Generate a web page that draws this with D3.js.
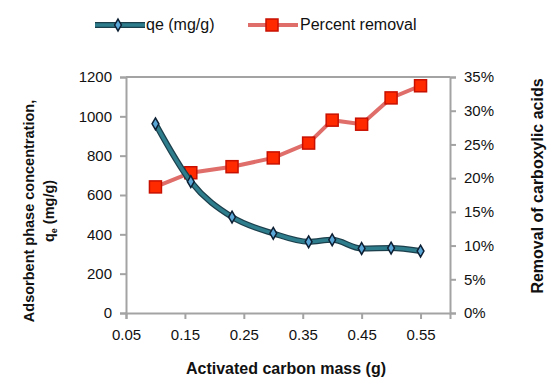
<!DOCTYPE html>
<html>
<head>
<meta charset="utf-8">
<script src="https://cdn.jsdelivr.net/npm/d3@7"></script>
<style>
  body { margin: 0; background: #fff; }
  text { font-family: "Liberation Sans", "DejaVu Sans", sans-serif; fill: #111; }
</style>
</head>
<body>
<svg id="chart" width="552" height="379"></svg>
<script>
// carbon mass (g)
const mass = [0.10, 0.16, 0.23, 0.30, 0.36, 0.40, 0.45, 0.50, 0.55];
// qe (mg/g)
const qe = [962, 668, 488, 405, 362, 372, 328, 330, 315];
// percent removal (fraction)
const removal = [0.187, 0.208, 0.217, 0.230, 0.252, 0.286, 0.280, 0.319, 0.337];

const xTicks = [0.05, 0.15, 0.25, 0.35, 0.45, 0.55];
const yTicks = [0, 200, 400, 600, 800, 1000, 1200];
const y2Ticks = [0, 0.05, 0.10, 0.15, 0.20, 0.25, 0.30, 0.35];

const svg = d3.select("#chart");
const plotL = 126, plotR = 450, plotT = 77, plotB = 313;

const x = d3.scaleLinear().domain([0.05, 0.6]).range([plotL, plotR]);
const y = d3.scaleLinear().domain([0, 1200]).range([plotB, plotT]);
const y2 = d3.scaleLinear().domain([0, 0.35]).range([plotB, plotT]);

const axisColor = "#a3a3a3";

// plot frame top line
svg.append("line")
  .attr("x1", plotL).attr("x2", plotR)
  .attr("y1", plotT).attr("y2", plotT)
  .attr("stroke", axisColor).attr("stroke-width", 2);

// left axis
const gy = svg.append("g").attr("transform", `translate(${plotL},0)`)
  .call(d3.axisLeft(y).tickValues(yTicks).tickSize(6).tickPadding(8).tickFormat(d3.format("d")));
// right axis
const gy2 = svg.append("g").attr("transform", `translate(${plotR},0)`)
  .call(d3.axisRight(y2).tickValues(y2Ticks).tickSize(6).tickPadding(8).tickFormat(d3.format(".0%")));
// bottom axis
const gx = svg.append("g").attr("transform", `translate(0,${plotB})`)
  .call(d3.axisBottom(x).tickValues(xTicks).tickSize(6).tickPadding(10).tickFormat(d3.format(".2f")));

[gy, gy2, gx].forEach(g => {
  g.select(".domain").attr("stroke", axisColor).attr("stroke-width", 2);
  g.selectAll(".tick line").attr("stroke", axisColor).attr("stroke-width", 2);
  g.selectAll(".tick text").attr("font-size", 15).attr("fill", "#111")
    .attr("font-family", "Liberation Sans, sans-serif");
});

// red series
const lineRed = d3.line().x((d, i) => x(mass[i])).y(d => y2(d));
svg.append("path").datum(removal)
  .attr("d", lineRed)
  .attr("fill", "none").attr("stroke", "#d9534f").attr("stroke-width", 4).attr("stroke-opacity", 0.85);
svg.append("g").selectAll("rect").data(removal).enter().append("rect")
  .attr("x", (d, i) => x(mass[i]) - 6)
  .attr("y", d => y2(d) - 6)
  .attr("width", 12).attr("height", 12)
  .attr("fill", "#ff2a00").attr("stroke", "#c81000").attr("stroke-width", 1.5);

// teal series
const lineQe = d3.line().x((d, i) => x(mass[i])).y(d => y(d)).curve(d3.curveMonotoneX);
svg.append("path").datum(qe)
  .attr("d", lineQe)
  .attr("fill", "none").attr("stroke", "#1c3f4c").attr("stroke-width", 6);
svg.append("path").datum(qe)
  .attr("d", lineQe)
  .attr("fill", "none").attr("stroke", "#2e7d8c").attr("stroke-width", 3.5);
const diamond = d3.symbol().type(d3.symbolDiamond).size(40);
svg.append("g").selectAll("path").data(qe).enter().append("path")
  .attr("d", diamond)
  .attr("transform", (d, i) => `translate(${x(mass[i])},${y(d)})`)
  .attr("fill", "#5aa6d6").attr("stroke", "#0d1f33").attr("stroke-width", 1.5);

// legend
const lg = svg.append("g");
lg.append("line").attr("x1", 95).attr("x2", 145).attr("y1", 25).attr("y2", 25)
  .attr("stroke", "#1c3f4c").attr("stroke-width", 6);
lg.append("line").attr("x1", 95).attr("x2", 145).attr("y1", 25).attr("y2", 25)
  .attr("stroke", "#2e7d8c").attr("stroke-width", 3.5);
lg.append("path").attr("d", diamond).attr("transform", "translate(118,25)")
  .attr("fill", "#5aa6d6").attr("stroke", "#0d1f33").attr("stroke-width", 1.5);
lg.append("text").attr("x", 146).attr("y", 30).attr("font-size", 16).text("qe (mg/g)");

lg.append("line").attr("x1", 248).attr("x2", 298).attr("y1", 25).attr("y2", 25)
  .attr("stroke", "#d9534f").attr("stroke-width", 4).attr("stroke-opacity", 0.85);
lg.append("rect").attr("x", 266).attr("y", 19).attr("width", 12).attr("height", 12)
  .attr("fill", "#ff2a00").attr("stroke", "#c81000").attr("stroke-width", 1.5);
lg.append("text").attr("x", 300).attr("y", 30).attr("font-size", 16).text("Percent removal");

// axis titles
svg.append("text")
  .attr("transform", "translate(34,211) rotate(-90)")
  .attr("text-anchor", "middle").attr("font-size", 14.5).attr("font-weight", "bold")
  .text("Adsorbent phase concentration,");
const qLabel = svg.append("text")
  .attr("transform", "translate(54,211) rotate(-90)")
  .attr("text-anchor", "middle").attr("font-size", 14.5).attr("font-weight", "bold");
qLabel.append("tspan").text("q");
qLabel.append("tspan").attr("font-size", 9).attr("dy", 3).text("e");
qLabel.append("tspan").attr("dy", -3).text(" (mg/g)");

svg.append("text")
  .attr("transform", "translate(543,186) rotate(-90)")
  .attr("text-anchor", "middle").attr("font-size", 16).attr("font-weight", "bold")
  .text("Removal of carboxylic acids");

svg.append("text")
  .attr("x", 286).attr("y", 374)
  .attr("text-anchor", "middle").attr("font-size", 16).attr("font-weight", "bold")
  .text("Activated carbon mass (g)");
</script>
</body>
</html>
